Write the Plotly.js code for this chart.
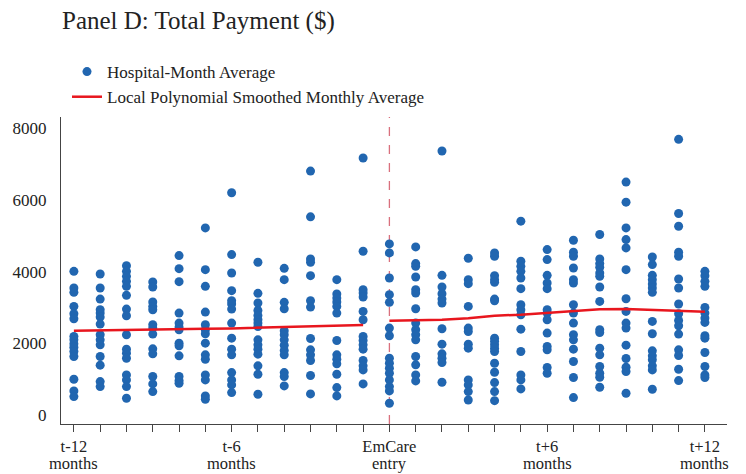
<!DOCTYPE html>
<html>
<head>
<meta charset="utf-8">
<script src="https://cdn.plot.ly/plotly-3.0.1.min.js"></script>
<style>html,body{margin:0;padding:0;background:#fff;}#chart{width:746px;height:474px;}</style>
</head>
<body>
<div id="chart"></div>
<script>
// Month offsets relative to EmCare entry
const monthOffsets = [-12,-11,-10,-9,-8,-7,-6,-5,-4,-3,-2,-1,0,1,2,3,4,5,6,7,8,9,10,11,12];

// Hospital-month average total payment ($), one list per month
const hospitalMonthAverages = [
  [4009,3543,3422,3031,2825,2685,2191,2098,1986,1893,1772,1632,998,672,513],
  [3935,3543,3235,2937,2844,2732,2536,2238,2098,1958,1632,1390,933,793],
  [4168,4009,3870,3730,3590,3338,2956,2769,2238,1837,1725,1585,1119,979,793,467],
  [3711,3571,3152,3031,2937,2518,2425,2257,1846,1707,1073,868,653],
  [4448,4084,3720,2844,2564,2453,2378,2005,1930,1651,1073,961,886],
  [5221,4056,3590,2872,2518,2378,2266,2005,1679,1557,1119,979,532,439],
  [6200,4475,3963,3469,3189,3096,2956,2564,2145,1837,1679,1184,979,839,625],
  [4261,3394,3124,2918,2779,2658,2564,2471,2098,1958,1837,1697,1371,1138,579],
  [4093,3776,3143,2965,2350,2238,2098,1949,1800,1679,1184,1073,811],
  [6806,5529,4354,4261,3888,3189,3012,2135,1818,1679,1520,1101,588],
  [3776,3375,3263,3152,3031,2844,2080,1679,1557,1427,1138,765,532],
  [7170,4569,3497,3403,3292,2891,2658,2191,2080,1958,1837,1520,1371,1259,868],
  [4774,4522,3823,3357,3143,2425,2210,1585,1445,1306,1166,979,793,672,327],
  [4690,4224,4149,3851,3497,3403,2965,2564,2378,2238,2098,1632,1399,1119,951],
  [7366,3897,3571,3385,3235,3124,2406,1977,1707,1585,1464,914],
  [4373,3776,3664,3031,2425,2331,1977,1865,979,839,653,420],
  [4522,4429,3888,3776,3702,3235,3189,2145,2052,1958,1865,1772,1445,1194,905,653,401],
  [5408,4289,4149,4009,3823,3525,3077,2937,2797,2396,1772,1119,979,728],
  [4615,4336,3897,3683,3525,2937,2844,2658,2285,1912,1818,1324,1166],
  [4876,4541,4429,4102,3776,3683,3077,2844,2564,2238,2098,1837,1492,1045,485],
  [5035,4354,4224,4121,3963,3870,3571,3170,2378,2303,1865,1679,1352,1166,1054,774],
  [6499,5939,5221,4895,4662,4056,3245,2891,2564,2425,1949,1576,1334,1213,606],
  [4410,4196,3897,3776,3655,3543,3422,2611,2266,1790,1651,1539,1371,1259,719],
  [7692,5622,5268,4541,4429,3795,3543,3096,2825,2639,2490,2257,1818,1660,1278,961],
  [4009,3888,3730,3590,3003,2844,2704,2583,2210,2145,1744,1352,1119,1045]
];

// Local polynomial smoothed monthly average
const preMonths = [-12,-11,-10,-9,-8,-7,-6,-5,-4,-3,-2,-1];
const preSmooth = [2350,2365,2375,2385,2395,2405,2415,2430,2445,2460,2480,2510];
const postMonths = [0,1,2,3,4,5,6,7,8,9,10,11,12];
const postSmooth = [2630,2640,2660,2700,2770,2800,2850,2910,2950,2955,2935,2920,2880];

// Tick labels (first line on the axis, second line underneath)
const labelMonths = [-12,-6,0,6,12];
const labelLine1 = ["t-12","t-6","EmCare","t+6","t+12"];
const labelLine2 = ["months","months","entry","months","months"];
const yTicks = [0,2000,4000,6000,8000];

const px = [], py = [];
monthOffsets.forEach((m, i) => {
  hospitalMonthAverages[i].forEach(v => { px.push(m); py.push(v); });
});

const font = "'Liberation Serif','Times New Roman',serif";
const blue = "#2166b0";
const red = "#e8161e";
const txt = "#222";

const traces = [
  {x: px, y: py, type: "scatter", mode: "markers", name: "Hospital-Month Average",
   marker: {color: blue, size: 9}, cliponaxis: false},
  {x: preMonths, y: preSmooth, type: "scatter", mode: "lines", name: "Local Polynomial Smoothed Monthly Average",
   line: {color: red, width: 2.5}},
  {x: postMonths, y: postSmooth, type: "scatter", mode: "lines", showlegend: false,
   line: {color: red, width: 2.5}}
];

const annotations = labelMonths.map((m, i) => ({
  x: m, xref: "x", y: (424 - 463.5) / 307, yref: "paper", yanchor: "middle", xanchor: "center",
  borderpad: 0, text: labelLine2[i], showarrow: false, font: {family: font, size: 16.5, color: txt}
}));

const layout = {
  width: 746, height: 474,
  margin: {l: 61, r: 19, t: 117, b: 50},
  paper_bgcolor: "#fff", plot_bgcolor: "#fff",
  font: {family: font, size: 17, color: txt},
  title: {text: "Panel D: Total Payment ($)", x: 62/746, xanchor: "left", xref: "container",
          y: 1 - 20/474, yanchor: "middle", font: {family: font, size: 25, color: txt}},
  showlegend: true,
  legend: {x: 0.009, xanchor: "left", y: 1.205, yanchor: "top", font: {family: font, size: 17, color: txt},
           bgcolor: "rgba(0,0,0,0)", tracegroupgap: 0},
  xaxis: {range: [-12.49, 12.84], tickmode: "array", tickvals: monthOffsets,
          ticktext: monthOffsets.map(m => { const k = labelMonths.indexOf(m); return k >= 0 ? labelLine1[k] : ""; }),
          ticks: "outside", ticklen: 7, tickcolor: "#444", showgrid: false, zeroline: false,
          showline: true, linecolor: "#444", linewidth: 1, tickfont: {family: font, size: 16.5, color: txt}},
  yaxis: {range: [-251, 8315], tickmode: "array", tickvals: yTicks, ticks: "", showgrid: false, zeroline: false,
          showline: true, linecolor: "#444", linewidth: 1, ticklabelstandoff: 10,
          tickfont: {family: font, size: 17, color: txt}},
  annotations: annotations,
  shapes: [{type: "line", xref: "x", yref: "paper", x0: 0, x1: 0, y0: 0, y1: 1,
            line: {color: "#d9707e", width: 1.3, dash: "dash"}, layer: "below"}]
};

Plotly.newPlot("chart", traces, layout, {displayModeBar: false, staticPlot: true});
</script>
</body>
</html>
